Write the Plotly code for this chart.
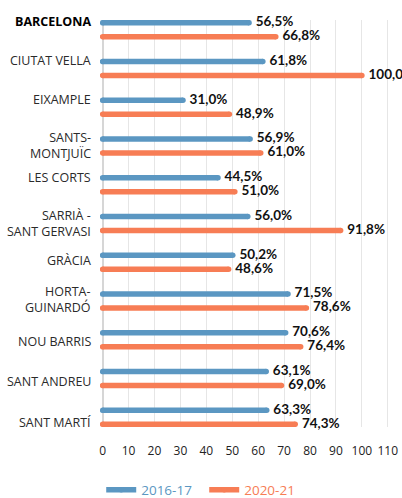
import plotly.graph_objects as go

# ---- data ----
categories = ["BARCELONA", "CIUTAT VELLA", "EIXAMPLE", "SANTS-<br>MONTJUÏC", "LES CORTS",
              "SARRIÀ -<br>SANT GERVASI", "GRÀCIA", "HORTA-<br>GUINARDÓ", "NOU BARRIS",
              "SANT ANDREU", "SANT MARTÍ"]
values_2016 = [56.5, 61.8, 31.0, 56.9, 44.5, 56.0, 50.2, 71.5, 70.6, 63.1, 63.3]
values_2020 = [66.8, 100.0, 48.9, 61.0, 51.0, 91.8, 48.6, 78.6, 76.4, 69.0, 74.3]
series_names = ["2016-17", "2020-21"]
x_ticks = [0, 10, 20, 30, 40, 50, 60, 70, 80, 90, 100, 110]

# ---- style ----
colors = ["#5b97c2", "#f77d55"]
offsets = [-0.18, 0.18]
label_yshift = [8, 8, 7.5, 0, 7, 0, 2, 2, -1.5, -3, -5]
FONT = "Open Sans"
VFONT = "Lato"

fig = go.Figure()
for s, vals in enumerate([values_2016, values_2020]):
    xs, ys = [], []
    for i, v in enumerate(vals):
        y = i + offsets[s]
        xs += [0, v, None]
        ys += [y, y, None]
    fig.add_trace(go.Scatter(
        x=xs, y=ys, mode="lines+markers",
        line=dict(color=colors[s], width=5.5),
        marker=dict(color=colors[s], size=5.5, line=dict(width=0)),
        name=f"<span style='color:{colors[s]}'>{series_names[s]}</span>",
        hoverinfo="skip", showlegend=True))
for s, vals in enumerate([values_2016, values_2020]):
    fig.add_trace(go.Scatter(
        x=vals, y=[i + offsets[s] for i in range(len(vals))],
        mode="markers+text", textposition="middle right",
        marker=dict(size=9, opacity=0),
        text=[f"{v:.1f}".replace(".", ",") + "%" for v in vals],
        textfont=dict(family=VFONT, size=13.5, color="#111111", weight="bold"),
        cliponaxis=False, hoverinfo="skip", showlegend=False))

for i, c in enumerate(categories):
    txt = f"<b>{c}</b>" if i == 0 else c
    fig.add_annotation(
        x=0, xref="paper", y=i, yref="y", text=txt, showarrow=False,
        xanchor="right", yanchor="middle", align="right", xshift=-7,
        yshift=label_yshift[i],
        font=dict(family=FONT, size=12.5, color="#000000" if i == 0 else "#2a2a2a"))

fig.update_layout(
    width=402, height=498,
    margin=dict(l=100, r=4, t=20, b=71),
    plot_bgcolor="white", paper_bgcolor="white",
    xaxis=dict(range=[-1, 112], tickvals=x_ticks, ticktext=[str(t) for t in x_ticks],
               showgrid=True, gridcolor="#e6e6e6", gridwidth=1,
               zeroline=True, zerolinecolor="#d6d6d6", zerolinewidth=2,
               showline=False, ticks="", ticklabelstandoff=15, ticklabeloverflow="allow",
               tickfont=dict(family=FONT, size=12, color="#222222"), fixedrange=True),
    yaxis=dict(range=[10.25, -0.25], showgrid=False, zeroline=False,
               showticklabels=False, fixedrange=True),
    legend=dict(orientation="h", xref="container", yref="container",
                x=0.508, xanchor="center", y=0.016, yanchor="middle",
                font=dict(family=FONT, size=13.5), itemwidth=30,
                entrywidth=58, entrywidthmode="pixels"),
    showlegend=True,
)

fig.write_html("out.html", config={"displayModeBar": False},
               post_script="document.body.style.margin='0px';document.body.style.overflow='hidden';")
